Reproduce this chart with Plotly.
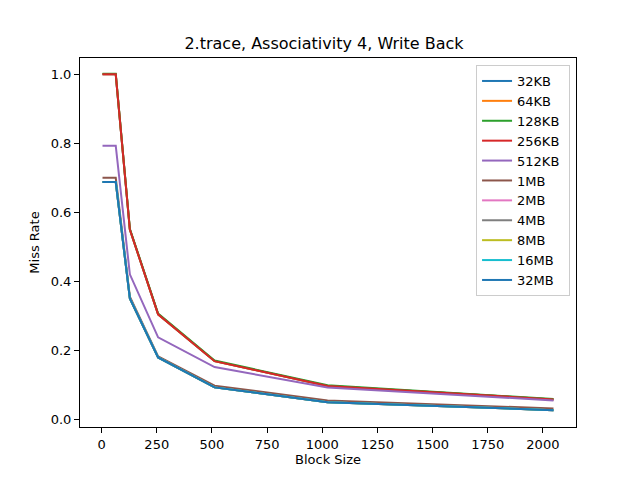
import plotly.graph_objects as go

block_sizes = [4, 8, 16, 32, 64, 128, 256, 512, 1024, 2048]
cache_names = ['32KB', '64KB', '128KB', '256KB', '512KB', '1MB', '2MB', '4MB', '8MB', '16MB', '32MB']

small_cache_rate = [1.0, 1.0, 1.0, 1.0, 1.0, 0.550, 0.304, 0.168, 0.096, 0.057]
rate_128kb = [1.002, 1.002, 1.002, 1.002, 1.002, 0.552, 0.306, 0.170, 0.098, 0.058]
rate_512kb = [0.793, 0.793, 0.793, 0.793, 0.793, 0.420, 0.237, 0.151, 0.092, 0.054]
rate_1mb = [0.700, 0.700, 0.700, 0.700, 0.700, 0.355, 0.182, 0.097, 0.054, 0.031]
big_cache_rate = [0.688, 0.688, 0.688, 0.688, 0.688, 0.350, 0.179, 0.092, 0.049, 0.026]

miss_rates = [small_cache_rate, small_cache_rate, rate_128kb, small_cache_rate,
              rate_512kb, rate_1mb, big_cache_rate, big_cache_rate,
              big_cache_rate, big_cache_rate, big_cache_rate]

colors = ['#1f77b4', '#ff7f0e', '#2ca02c', '#d62728', '#9467bd', '#8c564b',
          '#e377c2', '#7f7f7f', '#bcbd22', '#17becf', '#1f77b4']

fig = go.Figure()
for name, rate, color in zip(cache_names, miss_rates, colors):
    fig.add_trace(go.Scatter(x=block_sizes, y=rate, mode='lines', name=name + ' ',
                             legendgroup=name, line=dict(color=color, width=2)))

axis_style = dict(showline=True, linecolor='black', linewidth=1, mirror=True,
                  showgrid=False, zeroline=False, ticks='outside', ticklen=5,
                  tickcolor='black', tickfont=dict(size=13, color='black'))

# page body has an 8px margin, so the figure is drawn 8px smaller
fig.update_layout(
    width=632, height=472,
    paper_bgcolor='white', plot_bgcolor='white',
    font=dict(family='DejaVu Sans', size=13, color='black'),
    margin=dict(l=72, r=64, t=50, b=53),
    title=dict(text='2.trace, Associativity 4, Write Back', x=0.5, xanchor='center',
               y=1 - 35 / 472, yanchor='middle', font=dict(size=16)),
    xaxis=dict(title=dict(text='Block Size', font=dict(size=13), standoff=4),
               range=[-98, 2150], tickmode='linear', tick0=0, dtick=250, **axis_style),
    yaxis=dict(title=dict(text='Miss Rate', font=dict(size=13), standoff=8),
               range=[-0.0229, 1.0475], tickmode='linear', tick0=0, dtick=0.2,
               tickformat='.1f', **axis_style),
    legend=dict(x=0.988, y=0.981, xanchor='right', yanchor='top',
                bordercolor='#cccccc', borderwidth=1, bgcolor='white',
                font=dict(size=13), itemwidth=30, tracegroupgap=0),
    showlegend=True,
)

fig.write_html("out.html")
